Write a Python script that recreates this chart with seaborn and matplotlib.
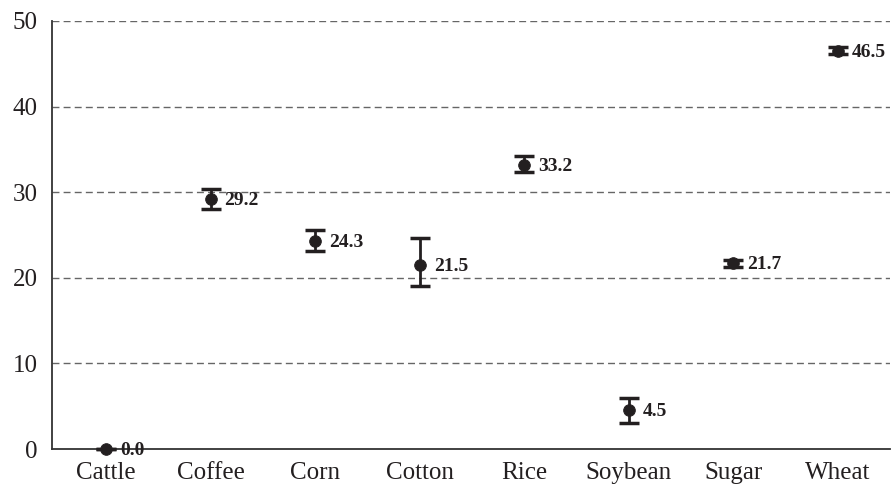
import numpy as np
import pandas as pd
import matplotlib
matplotlib.use('Agg')
import matplotlib.pyplot as plt
import seaborn as sns

# data
crops = ['Cattle', 'Coffee', 'Corn', 'Cotton', 'Rice', 'Soybean', 'Sugar', 'Wheat']
values = [0.0, 29.2, 24.3, 21.5, 33.2, 4.5, 21.7, 46.5]
err_low = [0.0, 1.2, 1.2, 2.5, 0.9, 1.5, 0.4, 0.4]
err_high = [0.0, 1.2, 1.3, 3.1, 1.0, 1.5, 0.4, 0.4]
labels = ['0.0', '29.2', '24.3', '21.5', '33.2', '4.5', '21.7', '46.5']

df = pd.DataFrame({'crop': crops, 'value': values})

sns.set_style('white')
plt.rcParams['font.family'] = ['Liberation Serif', 'DejaVu Serif']
ink = '#231f20'

fig = plt.figure(figsize=(8.92, 4.87), dpi=100)
ax = fig.add_axes([0.058, 0.078, 0.94, 0.879])

eb = ax.errorbar(crops, values, yerr=[err_low, err_high], fmt='none',
                 ecolor=ink, elinewidth=2, capsize=7, capthick=2.5, zorder=3)
for part in eb.lines[1] + eb.lines[2]:
    part.set_clip_on(False)
sns.scatterplot(data=df, x='crop', y='value', ax=ax, color=ink, s=70,
                edgecolor=ink, zorder=4, clip_on=False)

for i, (v, lab) in enumerate(zip(values, labels)):
    ax.annotate(lab, (i, v), xytext=(10, -1), textcoords='offset points',
                va='center', ha='left', fontsize=14, fontweight='bold', color=ink)

ax.set_ylim(0, 50)
ax.set_xlim(-0.52, 7.5)
ax.set_yticks([0, 10, 20, 30, 40, 50])
for y in [10, 20, 30, 40, 50]:
    ax.axhline(y, color='#666666', lw=1, ls=(0, (5, 3)), zorder=1)

ax.set_xlabel('')
ax.set_ylabel('')
for s in ['top', 'right']:
    ax.spines[s].set_visible(False)
for s in ['left', 'bottom']:
    ax.spines[s].set_color('#333333')
    ax.spines[s].set_linewidth(1.3)
ax.tick_params(axis='y', length=8, width=1, color='#333333', labelsize=18, labelcolor=ink, pad=2)
ax.tick_params(axis='x', length=0, labelsize=18, labelcolor=ink, pad=9)

fig.savefig('out.png', dpi=100)
